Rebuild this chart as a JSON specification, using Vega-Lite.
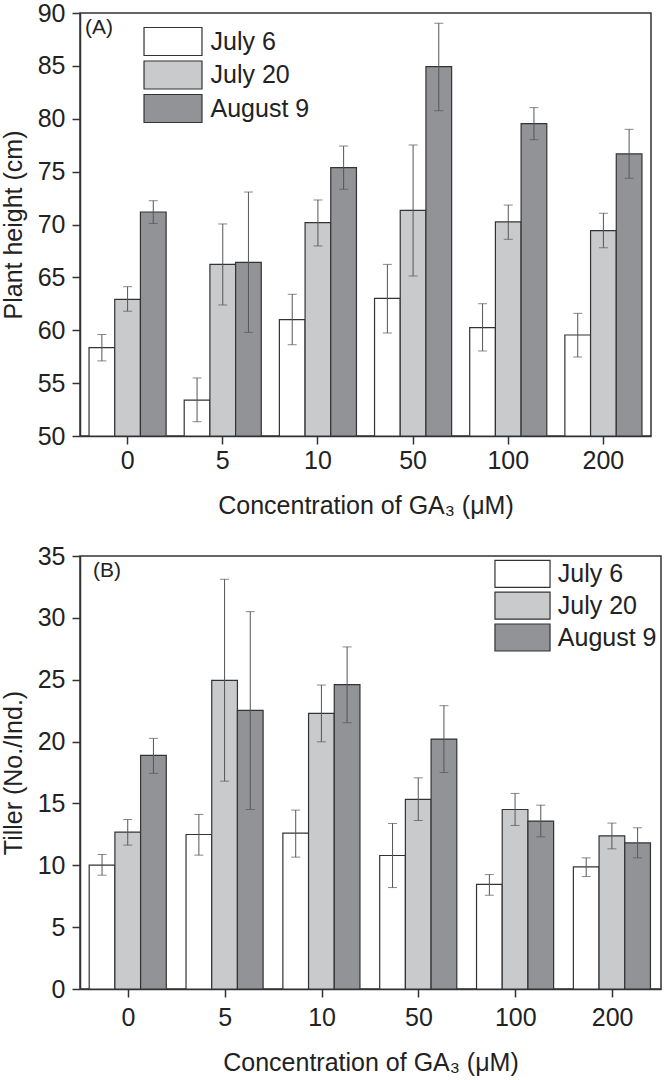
{
  "$schema": "https://vega.github.io/schema/vega-lite/v6.json",
  "padding": {"left": 0, "top": 0, "right": 0, "bottom": 0},
  "background": "white",
  "spacing": 24,
  "config": {
    "font": "Liberation Sans",
    "view": {"stroke": "#333333", "strokeWidth": 1.5},
    "axis": {
      "labelFont": "Liberation Sans", "labelFontSize": 25, "labelColor": "#222222",
      "titleFont": "Liberation Sans", "titleFontSize": 25, "titleFontWeight": "normal", "titleColor": "#222222",
      "domainColor": "#333333", "domainWidth": 1.5, "tickColor": "#333333", "tickWidth": 1.5, "tickSize": 8,
      "grid": false, "labelPadding": 7
    },
    "legend": {"padding": 0, "labelFont": "Liberation Sans", "labelFontSize": 25, "labelColor": "#222222", "labelLimit": 0}
  },
  "datasets": {
    "height": [
      {"conc": "0", "date": "July 6", "mean": 58.35, "lo": 57.1, "hi": 59.6},
      {"conc": "0", "date": "July 20", "mean": 62.92, "lo": 61.8, "hi": 64.12},
      {"conc": "0", "date": "August 9", "mean": 71.18, "lo": 70.1, "hi": 72.25},
      {"conc": "5", "date": "July 6", "mean": 53.4, "lo": 51.35, "hi": 55.49},
      {"conc": "5", "date": "July 20", "mean": 66.23, "lo": 62.39, "hi": 70.05},
      {"conc": "5", "date": "August 9", "mean": 66.42, "lo": 59.8, "hi": 73.07},
      {"conc": "10", "date": "July 6", "mean": 61.0, "lo": 58.63, "hi": 63.4},
      {"conc": "10", "date": "July 20", "mean": 70.17, "lo": 67.97, "hi": 72.32},
      {"conc": "10", "date": "August 9", "mean": 75.37, "lo": 73.33, "hi": 77.42},
      {"conc": "50", "date": "July 6", "mean": 63.02, "lo": 59.74, "hi": 66.23},
      {"conc": "50", "date": "July 20", "mean": 71.34, "lo": 65.13, "hi": 77.52},
      {"conc": "50", "date": "August 9", "mean": 84.92, "lo": 80.76, "hi": 89.03},
      {"conc": "100", "date": "July 6", "mean": 60.24, "lo": 58.04, "hi": 62.51},
      {"conc": "100", "date": "July 20", "mean": 70.24, "lo": 68.6, "hi": 71.84},
      {"conc": "100", "date": "August 9", "mean": 79.53, "lo": 78.02, "hi": 81.05},
      {"conc": "200", "date": "July 6", "mean": 59.55, "lo": 57.47, "hi": 61.6},
      {"conc": "200", "date": "July 20", "mean": 69.42, "lo": 67.8, "hi": 71.06},
      {"conc": "200", "date": "August 9", "mean": 76.67, "lo": 74.37, "hi": 79.0}
    ],
    "tiller": [
      {"conc": "0", "date": "July 6", "mean": 10.01, "lo": 9.2, "hi": 10.87},
      {"conc": "0", "date": "July 20", "mean": 12.68, "lo": 11.63, "hi": 13.7},
      {"conc": "0", "date": "August 9", "mean": 18.88, "lo": 17.43, "hi": 20.26},
      {"conc": "5", "date": "July 6", "mean": 12.49, "lo": 10.82, "hi": 14.11},
      {"conc": "5", "date": "July 20", "mean": 24.95, "lo": 16.8, "hi": 33.12},
      {"conc": "5", "date": "August 9", "mean": 22.52, "lo": 14.51, "hi": 30.5},
      {"conc": "10", "date": "July 6", "mean": 12.6, "lo": 10.66, "hi": 14.46},
      {"conc": "10", "date": "July 20", "mean": 22.28, "lo": 19.98, "hi": 24.57},
      {"conc": "10", "date": "August 9", "mean": 24.6, "lo": 21.52, "hi": 27.65},
      {"conc": "50", "date": "July 6", "mean": 10.79, "lo": 8.2, "hi": 13.38},
      {"conc": "50", "date": "July 20", "mean": 15.32, "lo": 13.62, "hi": 17.07},
      {"conc": "50", "date": "August 9", "mean": 20.2, "lo": 17.5, "hi": 22.9},
      {"conc": "100", "date": "July 6", "mean": 8.45, "lo": 7.58, "hi": 9.25},
      {"conc": "100", "date": "July 20", "mean": 14.51, "lo": 13.22, "hi": 15.81},
      {"conc": "100", "date": "August 9", "mean": 13.57, "lo": 12.3, "hi": 14.86},
      {"conc": "200", "date": "July 6", "mean": 9.87, "lo": 9.09, "hi": 10.6},
      {"conc": "200", "date": "July 20", "mean": 12.38, "lo": 11.33, "hi": 13.41},
      {"conc": "200", "date": "August 9", "mean": 11.81, "lo": 10.6, "hi": 13.03}
    ]
  },
  "resolve": {"legend": {"fill": "independent"}},
  "vconcat": [
    {
      "width": 571, "height": 423,
      "title": {"text": "(A)", "anchor": "start", "frame": "group", "offset": -37, "dx": 5, "fontSize": 21, "fontWeight": "normal", "color": "#222222", "font": "Liberation Sans"},
      "data": {"name": "height"},
      "encoding": {
        "x": {"field": "conc", "type": "nominal", "sort": ["0", "5", "10", "50", "100", "200"],
              "scale": {"paddingInner": 0.19, "paddingOuter": 0.095},
              "axis": {"title": "Concentration of GA₃ (μM)", "labelAngle": 0, "labelPadding": 4, "titlePadding": 20}},
        "xOffset": {"field": "date", "type": "nominal", "sort": ["July 6", "July 20", "August 9"],
                    "scale": {"paddingInner": 0, "paddingOuter": 0}}
      },
      "layer": [
        {
          "mark": {"type": "bar", "stroke": "#333333", "strokeWidth": 1.2},
          "encoding": {
            "y": {"field": "mean", "type": "quantitative", "title": "Plant height (cm)",
                  "scale": {"domain": [50, 90], "zero": false, "nice": false},
                  "axis": {"values": [50, 55, 60, 65, 70, 75, 80, 85, 90], "titlePadding": 11}},
            "y2": {"datum": 50},
            "fill": {"field": "date", "type": "nominal", "sort": ["July 6", "July 20", "August 9"],
                     "scale": {"domain": ["July 6", "July 20", "August 9"], "range": ["#ffffff", "#c9cacc", "#929397"]},
                     "legend": {"title": null, "orient": "none", "legendX": 78, "legendY": 13.5,
                                "symbolType": "M-2.07,-1H2.07V1H-2.07Z", "symbolSize": 784,
                                "symbolStrokeColor": "#333333", "symbolStrokeWidth": 1.2, "symbolOpacity": 1,
                                "labelOffset": 22.5, "rowPadding": -0.5}}
          }
        },
        {
          "mark": {"type": "rule", "color": "#555555", "strokeWidth": 1},
          "encoding": {"y": {"field": "lo", "type": "quantitative", "title": "Plant height (cm)"}, "y2": {"field": "hi"}}
        },
        {
          "mark": {"type": "tick", "color": "#555555", "thickness": 1, "size": 9},
          "encoding": {"y": {"field": "hi", "type": "quantitative", "title": "Plant height (cm)"}}
        },
        {
          "mark": {"type": "tick", "color": "#555555", "thickness": 1, "size": 9},
          "encoding": {"y": {"field": "lo", "type": "quantitative", "title": "Plant height (cm)"}}
        }
      ]
    },
    {
      "width": 581, "height": 433,
      "title": {"text": "(B)", "anchor": "start", "frame": "group", "offset": -37, "dx": 13, "fontSize": 21, "fontWeight": "normal", "color": "#222222", "font": "Liberation Sans"},
      "data": {"name": "tiller"},
      "encoding": {
        "x": {"field": "conc", "type": "nominal", "sort": ["0", "5", "10", "50", "100", "200"],
              "scale": {"paddingInner": 0.19, "paddingOuter": 0.095},
              "axis": {"title": "Concentration of GA₃ (μM)", "labelAngle": 0, "labelPadding": 8, "titlePadding": 20}},
        "xOffset": {"field": "date", "type": "nominal", "sort": ["July 6", "July 20", "August 9"],
                    "scale": {"paddingInner": 0, "paddingOuter": 0}}
      },
      "layer": [
        {
          "mark": {"type": "bar", "stroke": "#333333", "strokeWidth": 1.2},
          "encoding": {
            "y": {"field": "mean", "type": "quantitative", "title": "Tiller (No./Ind.)",
                  "scale": {"domain": [0, 35], "nice": false},
                  "axis": {"values": [0, 5, 10, 15, 20, 25, 30, 35], "titlePadding": 11}},
            "fill": {"field": "date", "type": "nominal", "sort": ["July 6", "July 20", "August 9"],
                     "scale": {"domain": ["July 6", "July 20", "August 9"], "range": ["#ffffff", "#c9cacc", "#929397"]},
                     "legend": {"title": null, "orient": "none", "legendX": 428, "legendY": 3.4,
                                "symbolType": "M-2.04,-1H2.04V1H-2.04Z", "symbolSize": 729,
                                "symbolStrokeColor": "#333333", "symbolStrokeWidth": 1.2, "symbolOpacity": 1,
                                "labelOffset": 20.8, "rowPadding": -1.2}}
          }
        },
        {
          "mark": {"type": "rule", "color": "#555555", "strokeWidth": 1},
          "encoding": {"y": {"field": "lo", "type": "quantitative", "title": "Tiller (No./Ind.)"}, "y2": {"field": "hi"}}
        },
        {
          "mark": {"type": "tick", "color": "#555555", "thickness": 1, "size": 9},
          "encoding": {"y": {"field": "hi", "type": "quantitative", "title": "Tiller (No./Ind.)"}}
        },
        {
          "mark": {"type": "tick", "color": "#555555", "thickness": 1, "size": 9},
          "encoding": {"y": {"field": "lo", "type": "quantitative", "title": "Tiller (No./Ind.)"}}
        }
      ]
    }
  ]
}
